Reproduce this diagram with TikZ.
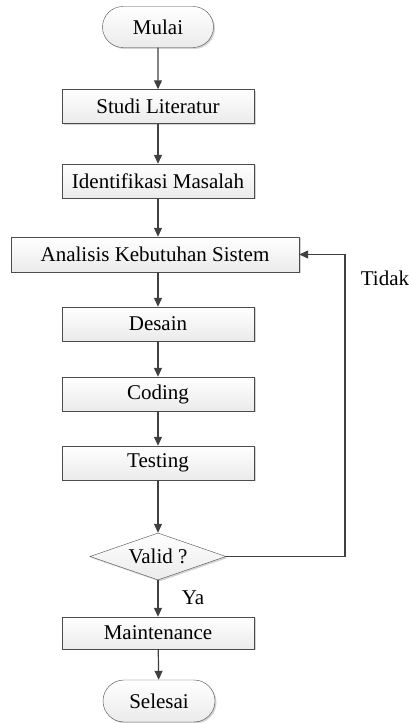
\documentclass[tikz,border=0pt]{standalone}
\usepackage{fontspec}
\setmainfont{Liberation Serif}
\usetikzlibrary{shapes,arrows,arrows.meta}
\usetikzlibrary{shadows}

\begin{document}
\begin{tikzpicture}[x=1pt,y=1pt,font=\fontsize{21}{24}\selectfont,
    box/.style={rectangle,draw=black!70,top color=white,bottom color=black!8,
        minimum width=192pt,minimum height=34pt,inner sep=0pt,
        drop shadow={shadow xshift=1.5pt,shadow yshift=-1.5pt,opacity=0.35}},
    term/.style={rounded rectangle,draw=black!70,top color=white,bottom color=black!8,
        minimum width=111pt,minimum height=41pt,inner sep=0pt,
        drop shadow={shadow xshift=1.5pt,shadow yshift=-1.5pt,opacity=0.35}},
    cond/.style={diamond,aspect=2.9,draw=black!70,top color=white,bottom color=black!8,
        minimum width=136pt,minimum height=47pt,inner sep=0pt,
        drop shadow={shadow xshift=1.5pt,shadow yshift=-1.5pt,opacity=0.35}},
    line/.style={draw=black!75,line width=1.2pt,-{Triangle[length=9pt,width=8pt]}}]
        \useasboundingbox (0,0) rectangle (409,723);
        \node[term] (mulai) at (158,696) {Mulai};
        \node[box] (studi) at (158,616.5) {Studi Literatur};
        \node[box] (ident) at (158,542) {Identifikasi Masalah};
        \node[box,minimum width=288pt,minimum height=35pt] (analisis) at (155,468.5) {Analisis Kebutuhan Sistem};
        \node[box] (desain) at (158,399) {Desain};
        \node[box] (coding) at (158,329) {Coding};
        \node[box] (testing) at (158,260) {Testing};
        \node[cond] (valid) at (158,166.5) {Valid ?};
        \node[box,minimum height=32pt] (maint) at (158,90) {Maintenance};
        \node[term,minimum width=112pt,minimum height=42pt] (selesai) at (159,22) {Selesai};
        \coordinate (back) at (345,166.5);
        \node (tidak) at (385,445) {Tidak};
        \node (ya) at (193,125) {Ya};
        \draw[line] (mulai) -- (studi);
        \draw[line] (studi) -- (ident);
        \draw[line] (ident) -- (ident |- analisis.north);
        \draw[line] (ident |- analisis.south) -- (desain);
        \draw[line] (desain) -- (coding);
        \draw[line] (coding) -- (testing);
        \draw[line] (testing) -- (valid);
        \draw[line] (valid) -- (maint);
        \draw[line] (maint) -- (selesai);
        \draw[line] (valid.east) -- (back) |- (analisis.east);
\end{tikzpicture}
\end{document}
